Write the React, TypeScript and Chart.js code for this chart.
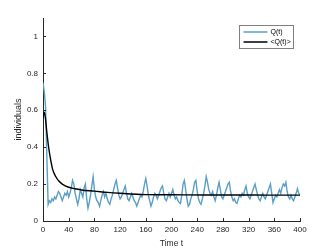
import React, { useEffect, useRef } from "react";
import { Chart, registerables } from "chart.js";

Chart.register(...registerables);

const qStep = 2;
const qValues: number[] = [
  0.75, 0.7, 0.62, 0.35, 0.09, 0.11, 0.1, 0.12, 0.11, 0.13, 0.12, 0.14, 0.16, 0.15, 0.13, 0.11, 0.13, 0.15, 0.14, 0.16, 0.13,
  0.15, 0.18, 0.22, 0.2, 0.15, 0.12, 0.09, 0.12, 0.17, 0.15, 0.13, 0.18, 0.2, 0.12, 0.07, 0.1, 0.14, 0.19, 0.24, 0.17,
  0.13, 0.11, 0.1, 0.08, 0.11, 0.14, 0.16, 0.13, 0.15, 0.12, 0.1, 0.09, 0.12, 0.14, 0.17, 0.2, 0.22, 0.18, 0.14, 0.12,
  0.13, 0.15, 0.17, 0.19, 0.15, 0.12, 0.11, 0.13, 0.15, 0.13, 0.11, 0.1, 0.08, 0.1, 0.12, 0.14, 0.13, 0.16, 0.2, 0.23,
  0.19, 0.14, 0.11, 0.08, 0.1, 0.13, 0.15, 0.14, 0.12, 0.14, 0.16, 0.18, 0.19, 0.15, 0.12, 0.11, 0.13, 0.15, 0.13, 0.15,
  0.17, 0.14, 0.12, 0.13, 0.11, 0.1, 0.095, 0.14, 0.2, 0.22, 0.17, 0.12, 0.08, 0.09, 0.12, 0.14, 0.17, 0.21, 0.22, 0.16,
  0.12, 0.1, 0.09, 0.12, 0.15, 0.19, 0.24, 0.21, 0.17, 0.15, 0.14, 0.16, 0.13, 0.11, 0.14, 0.18, 0.21, 0.17, 0.13, 0.12,
  0.14, 0.16, 0.18, 0.2, 0.21, 0.16, 0.13, 0.11, 0.12, 0.1, 0.095, 0.12, 0.14, 0.13, 0.15, 0.14, 0.17, 0.19, 0.15, 0.13,
  0.12, 0.14, 0.16, 0.18, 0.2, 0.17, 0.14, 0.12, 0.11, 0.13, 0.15, 0.13, 0.12, 0.14, 0.16, 0.18, 0.2, 0.15, 0.1, 0.12,
  0.14, 0.13, 0.15, 0.17, 0.15, 0.18, 0.2, 0.19, 0.21, 0.16, 0.13, 0.12, 0.14, 0.12, 0.11, 0.13, 0.15, 0.175, 0.15, 0.14,
];

const meanTimes: number[] = [0, 2, 4, 6, 8, 10, 12, 15, 20, 25, 30, 40, 50, 60, 80, 100, 120, 160, 200, 250, 300, 350, 400];
const meanValues: number[] = [0.56, 0.59, 0.55, 0.48, 0.42, 0.37, 0.33, 0.28, 0.24, 0.215, 0.2, 0.183, 0.175, 0.168, 0.162, 0.155, 0.15, 0.143, 0.142, 0.141, 0.141, 0.14, 0.14];

const xTicks: number[] = [0, 40, 80, 120, 160, 200, 240, 280, 320, 360, 400];
const yTicks: number[] = [0, 0.2, 0.4, 0.6, 0.8, 1];
const seriesLabels: string[] = ["Q(t)", "<Q(t)>"];
const seriesColors: string[] = ["#5b9fc5", "#000000"];

const FONT = "Liberation Sans, Arial, Helvetica, sans-serif";
const AXIS = "#262626";

export default function App() {
  const ref = useRef<HTMLCanvasElement>(null);
  useEffect(() => {
    if (!ref.current) return;
    const innerTicks = {
      id: "innerTicks",
      afterDatasetsDraw(chart: any) {
        const { ctx, chartArea, scales } = chart;
        ctx.save();
        ctx.strokeStyle = AXIS;
        ctx.lineWidth = 1;
        ctx.beginPath();
        xTicks.forEach((v) => {
          const x = Math.round(scales.x.getPixelForValue(v)) + 0.5;
          ctx.moveTo(x, chartArea.bottom);
          ctx.lineTo(x, chartArea.bottom - 3);
        });
        yTicks.forEach((v) => {
          const y = Math.round(scales.y.getPixelForValue(v)) + 0.5;
          ctx.moveTo(chartArea.left, y);
          ctx.lineTo(chartArea.left + 3, y);
        });
        ctx.stroke();
        // legend
        const lx = 239.5, ly = 25.5, lw = 54, lh = 23;
        ctx.fillStyle = "#ffffff";
        ctx.fillRect(lx, ly, lw, lh);
        ctx.strokeStyle = "#7f7f7f";
        ctx.strokeRect(lx, ly, lw, lh);
        ctx.font = `7px ${FONT}`;
        ctx.textBaseline = "middle";
        ctx.textAlign = "left";
        seriesLabels.forEach((lab, i) => {
          const yy = ly + 6.5 + i * 10;
          ctx.strokeStyle = seriesColors[i];
          ctx.lineWidth = 1.5;
          ctx.beginPath();
          ctx.moveTo(lx + 4, yy);
          ctx.lineTo(lx + 28, yy);
          ctx.stroke();
          ctx.fillStyle = "#000";
          ctx.fillText(lab, lx + 31, yy);
        });
        ctx.restore();
      },
    };
    const chart = new Chart(ref.current, {
      type: "line",
      data: {
        datasets: [
          {
            label: seriesLabels[0],
            data: qValues.map((v, i) => ({ x: i * qStep, y: v })),
            borderColor: seriesColors[0],
            borderWidth: 1.4,
            pointRadius: 0,
            tension: 0,
            order: 2,
          },
          {
            label: seriesLabels[1],
            data: meanValues.map((v, i) => ({ x: meanTimes[i], y: v })),
            borderColor: seriesColors[1],
            borderWidth: 1.4,
            pointRadius: 0,
            cubicInterpolationMode: "monotone",
            order: 1,
          },
        ],
      },
      options: {
        animation: false,
        responsive: false,
        layout: { padding: { left: 0, right: 32, top: 18, bottom: 0 } },
        plugins: { legend: { display: false }, tooltip: { enabled: false } },
        scales: {
          x: {
            type: "linear",
            min: 0,
            max: 400,
            afterBuildTicks: (s: any) => { s.ticks = xTicks.map((v) => ({ value: v })); },
            afterFit: (s: any) => { s.height = 28; },
            grid: { display: false, drawTicks: false },
            border: { display: true, color: AXIS, width: 1 },
            ticks: { color: AXIS, font: { size: 8, family: FONT }, padding: 4, maxRotation: 0, autoSkip: false },
            title: { display: true, text: "Time t", color: AXIS, font: { size: 8.5, family: FONT }, padding: { top: 1, bottom: 0 } },
          },
          y: {
            type: "linear",
            min: 0,
            max: 1.1,
            afterBuildTicks: (s: any) => { s.ticks = yTicks.map((v) => ({ value: v })); },
            afterFit: (s: any) => { s.width = 43; },
            grid: { display: false, drawTicks: false },
            border: { display: true, color: AXIS, width: 1 },
            ticks: {
              color: AXIS,
              font: { size: 8, family: FONT },
              padding: 5,
              callback: (v: any) => String(Math.round(Number(v) * 10) / 10),
            },
            title: { display: true, text: "individuals", color: AXIS, font: { size: 9, family: FONT }, padding: { top: 13, bottom: 0 } },
          },
        },
      },
      plugins: [innerTicks],
    } as any);
    return () => chart.destroy();
  }, []);
  return (
    <div style={{ position: "fixed", left: 0, top: 0, width: 332, height: 249, background: "#fff" }}>
      <canvas ref={ref} width={332} height={249} style={{ display: "block", width: 332, height: 249 }} />
    </div>
  );
}
